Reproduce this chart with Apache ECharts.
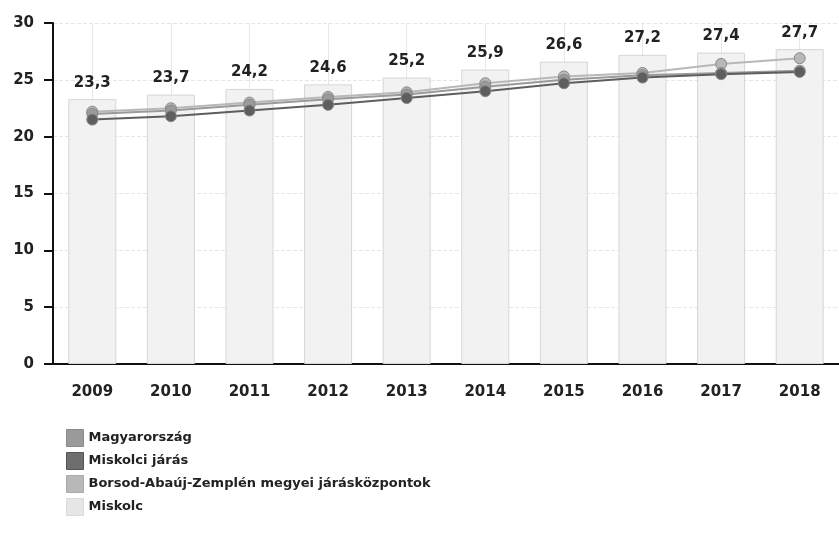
<!DOCTYPE html>
<html>
<head>
<meta charset="utf-8">
<script src="https://cdn.jsdelivr.net/npm/echarts@6/dist/echarts.min.js"></script>
<style>
  html, body { margin: 0; padding: 0; background: #fff; }
  #chart { width: 839px; height: 539px; }
</style>
</head>
<body>
<div id="chart"></div>
<script>
var years = ['2009', '2010', '2011', '2012', '2013', '2014', '2015', '2016', '2017', '2018'];
var miskolc = [23.3, 23.7, 24.2, 24.6, 25.2, 25.9, 26.6, 27.2, 27.4, 27.7];
var magyarorszag = [22.0, 22.3, 22.8, 23.3, 23.7, 24.4, 25.0, 25.4, 25.6, 25.8];
var miskolciJaras = [21.5, 21.8, 22.3, 22.8, 23.4, 24.0, 24.7, 25.2, 25.5, 25.7];
var borsod = [22.2, 22.5, 23.0, 23.5, 23.9, 24.7, 25.3, 25.6, 26.4, 26.9];
var yTicks = [0, 5, 10, 15, 20, 25, 30];

~function () {
    var myChart = echarts.init(document.getElementById('chart'));
    var font = 'DejaVu Sans, Verdana, sans-serif';

    function lineSeries(name, data, color) {
        return {
            name: name,
            type: 'line',
            data: data,
            symbol: 'circle',
            symbolSize: 11,
            z: 3,
            lineStyle: { color: color, width: 2 },
            itemStyle: { color: color, borderColor: '#888', borderWidth: 1 }
        };
    }

    var option = {
        animation: false,
        backgroundColor: '#fff',
        textStyle: { fontFamily: font },
        grid: { left: 53, top: 23, right: -8, height: 341 },
        legend: {
            orient: 'vertical',
            left: 61,
            top: 424,
            itemWidth: 17,
            itemHeight: 17,
            itemGap: 5,
            icon: 'rect',
            textStyle: { fontSize: 13, fontWeight: 'bold', color: '#222', fontFamily: font },
            data: [
                { name: 'Magyarország', itemStyle: { color: '#9a9a9a', borderColor: '#8a8a8a', borderWidth: 1 } },
                { name: 'Miskolci járás', itemStyle: { color: '#6e6e6e', borderColor: '#555', borderWidth: 1 } },
                { name: 'Borsod-Abaúj-Zemplén megyei járásközpontok', itemStyle: { color: '#b8b8b8', borderColor: '#aaa', borderWidth: 1 } },
                { name: 'Miskolc', itemStyle: { color: '#e6e6e6', borderColor: '#dadada', borderWidth: 1 } }
            ]
        },
        xAxis: {
            type: 'category',
            data: years,
            axisLine: { lineStyle: { color: '#111', width: 2 } },
            axisTick: { alignWithLabel: true, length: 8, lineStyle: { color: '#111', width: 2 } },
            axisLabel: { fontSize: 15, fontWeight: 'bold', color: '#222', margin: 21 },
            splitLine: { show: true, alignWithLabel: true, lineStyle: { color: '#e8e8e8', width: 1 } }
        },
        yAxis: {
            type: 'value',
            min: yTicks[0],
            max: yTicks[yTicks.length - 1],
            interval: 5,
            axisLine: { show: true, lineStyle: { color: '#111', width: 2 } },
            axisTick: { show: true, length: 9, lineStyle: { color: '#111', width: 2 } },
            axisLabel: { fontSize: 15, fontWeight: 'bold', color: '#222', margin: 19 },
            splitLine: { show: true, lineStyle: { color: '#e6e6e6', type: 'dashed', width: 1 } }
        },
        series: [
            {
                name: 'Miskolc',
                type: 'bar',
                data: miskolc,
                barWidth: 48,
                z: 1,
                itemStyle: { color: 'rgba(241,241,241,0.9)', borderColor: '#d6d6d6', borderWidth: 1 },
                label: {
                    show: true,
                    position: 'top',
                    distance: 9,
                    fontSize: 15,
                    fontWeight: 'bold',
                    color: '#222',
                    formatter: function (p) { return p.value.toFixed(1).replace('.', ','); }
                }
            },
            lineSeries('Borsod-Abaúj-Zemplén megyei járásközpontok', borsod, '#b8b8b8'),
            lineSeries('Magyarország', magyarorszag, '#9a9a9a'),
            lineSeries('Miskolci járás', miskolciJaras, '#5e5e5e')
        ]
    };
    myChart.setOption(option);
}();
</script>
</body>
</html>
